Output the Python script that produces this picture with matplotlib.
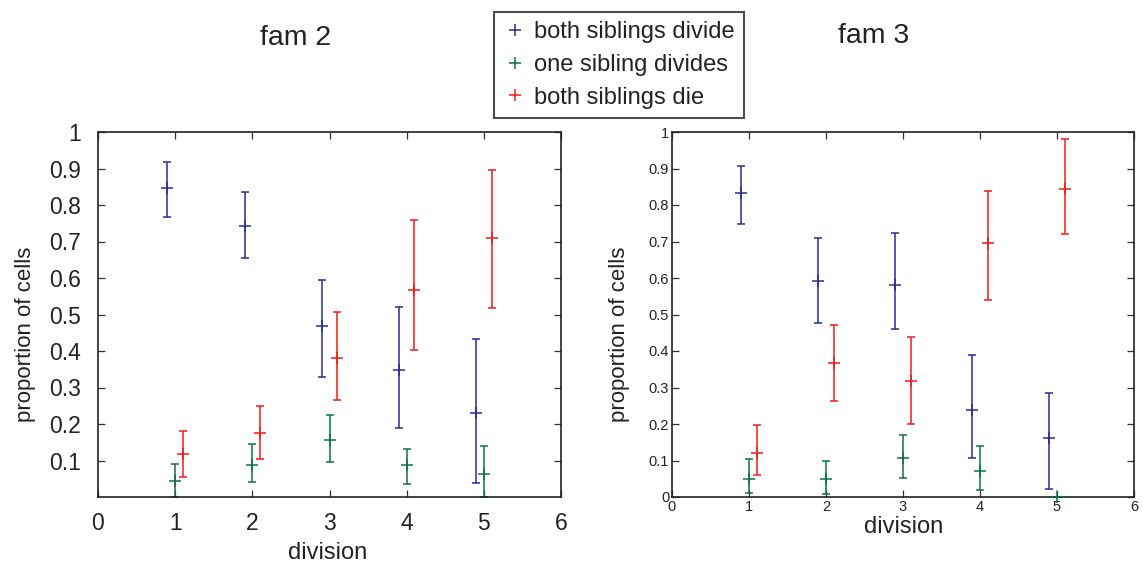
import matplotlib
matplotlib.use("Agg")
import matplotlib.pyplot as plt
from matplotlib.lines import Line2D

plt.rcParams['font.family'] = ['Liberation Sans', 'DejaVu Sans']

divisions = [1, 2, 3, 4, 5]
series_names = ["both siblings divide", "one sibling divides", "both siblings die"]
series_colors = ["#2b2b9a", "#0b7447", "#f01c1c"]
series_offsets = [-0.1, 0.0, 0.1]

# fam 2: mean proportion and lower / upper confidence bounds per division
fam2_both_divide = [0.846, 0.743, 0.468, 0.349, 0.231]
fam2_both_divide_lo = [0.767, 0.656, 0.330, 0.188, 0.038]
fam2_both_divide_hi = [0.917, 0.835, 0.594, 0.521, 0.433]
fam2_one_divides = [0.044, 0.088, 0.157, 0.088, 0.064]
fam2_one_divides_lo = [0.0, 0.041, 0.097, 0.036, 0.0]
fam2_one_divides_hi = [0.091, 0.146, 0.225, 0.132, 0.141]
fam2_both_die = [0.117, 0.176, 0.381, 0.567, 0.709]
fam2_both_die_lo = [0.056, 0.105, 0.266, 0.402, 0.518]
fam2_both_die_hi = [0.181, 0.249, 0.506, 0.758, 0.895]

# fam 3
fam3_both_divide = [0.834, 0.591, 0.580, 0.237, 0.161]
fam3_both_divide_lo = [0.749, 0.478, 0.459, 0.108, 0.023]
fam3_both_divide_hi = [0.908, 0.709, 0.723, 0.389, 0.284]
fam3_one_divides = [0.049, 0.049, 0.108, 0.070, 0.0]
fam3_one_divides_lo = [0.011, 0.009, 0.053, 0.018, 0.0]
fam3_one_divides_hi = [0.105, 0.099, 0.170, 0.140, 0.0]
fam3_both_die = [0.121, 0.366, 0.319, 0.697, 0.843]
fam3_both_die_lo = [0.059, 0.263, 0.201, 0.539, 0.720]
fam3_both_die_hi = [0.196, 0.471, 0.439, 0.837, 0.980]

fam2 = [(fam2_both_divide, fam2_both_divide_lo, fam2_both_divide_hi),
        (fam2_one_divides, fam2_one_divides_lo, fam2_one_divides_hi),
        (fam2_both_die, fam2_both_die_lo, fam2_both_die_hi)]
fam3 = [(fam3_both_divide, fam3_both_divide_lo, fam3_both_divide_hi),
        (fam3_one_divides, fam3_one_divides_lo, fam3_one_divides_hi),
        (fam3_both_die, fam3_both_die_lo, fam3_both_die_hi)]

x_ticks = [0, 1, 2, 3, 4, 5, 6]
fam2_yticks = [0.1, 0.2, 0.3, 0.4, 0.5, 0.6, 0.7, 0.8, 0.9, 1.0]
fam2_ylabels = ["0.1", "0.2", "0.3", "0.4", "0.5", "0.6", "0.7", "0.8", "0.9", "1"]
fam3_yticks = [0, 0.1, 0.2, 0.3, 0.4, 0.5, 0.6, 0.7, 0.8, 0.9, 1.0]
fam3_ylabels = ["0", "0.1", "0.2", "0.3", "0.4", "0.5", "0.6", "0.7", "0.8", "0.9", "1"]

W, H = 1143, 571
fig = plt.figure(figsize=(W / 100, H / 100), dpi=100)


def px_axes(x0, y0, x1, y1):
    return fig.add_axes([x0 / W, 1 - y1 / H, (x1 - x0) / W, (y1 - y0) / H])


def draw_family(ax, data):
    for (mean, lo, hi), color, off in zip(data, series_colors, series_offsets):
        xs = [d + off for d in divisions]
        err = [[m - l for m, l in zip(mean, lo)], [h - m for m, h in zip(mean, hi)]]
        eb = ax.errorbar(xs, mean, yerr=err, fmt='+', color=color, ecolor=color,
                         markersize=8, markeredgewidth=1.1, elinewidth=1.1,
                         capsize=3, capthick=1.1)
        # centre markers sit above the frame so points at zero stay visible
        eb[0].set_clip_on(False)
        eb[0].set_zorder(3)
    ax.set_xlim(0, 6)
    ax.set_ylim(0, 1)
    ax.set_xticks(x_ticks)
    ax.tick_params(direction='in', top=True, right=True, length=5,
                   width=0.9, color='#333333')
    for s in ax.spines.values():
        s.set_linewidth(1.2)
        s.set_color('#222222')


ax1 = px_axes(98, 132, 561, 497)
draw_family(ax1, fam2)
ax1.set_yticks(fam2_yticks)
ax1.set_yticklabels(fam2_ylabels)
ax1.tick_params(axis='both', labelsize=16.5, labelcolor='#222222')
ax1.tick_params(axis='x', pad=11)
ax1.tick_params(axis='y', pad=12)

ax2 = px_axes(672, 132, 1134, 497)
draw_family(ax2, fam3)
ax2.set_yticks(fam3_yticks)
ax2.set_yticklabels(fam3_ylabels)
ax2.tick_params(axis='both', labelsize=10.5, labelcolor='#222222', pad=2)

# axis labels and titles
txt = dict(color='#222222')
fig.text(26 / W, 1 - 334 / H, "proportion of cells", rotation=90,
         ha='center', va='center', fontsize=16, **txt)
fig.text(620 / W, 1 - 334 / H, "proportion of cells", rotation=90,
         ha='center', va='center', fontsize=16, **txt)
fig.text(328 / W, 1 - 553 / H, "division", ha='center', va='center', fontsize=17, **txt)
fig.text(904 / W, 1 - 527 / H, "division", ha='center', va='center', fontsize=17, **txt)
fig.text(296 / W, 1 - 38 / H, "fam 2", ha='center', va='center', fontsize=20.5, **txt)
fig.text(874 / W, 1 - 36 / H, "fam 3", ha='center', va='center', fontsize=20.5, **txt)

# shared legend
handles = [Line2D([], [], linestyle='none', marker='+', color=c,
                  markersize=8, markeredgewidth=1.1) for c in series_colors]
leg = fig.legend(handles, series_names, loc='upper left',
                 bbox_to_anchor=(494 / W, 1 - 12 / H), fontsize=17,
                 frameon=True, fancybox=False, edgecolor='#222222',
                 handlelength=1.0, handletextpad=0.3, borderpad=0.4,
                 labelspacing=0.45, borderaxespad=0)
leg.get_frame().set_linewidth(1.5)
for t in leg.get_texts():
    t.set_color('#222222')

fig.savefig("out.png", dpi=100)
